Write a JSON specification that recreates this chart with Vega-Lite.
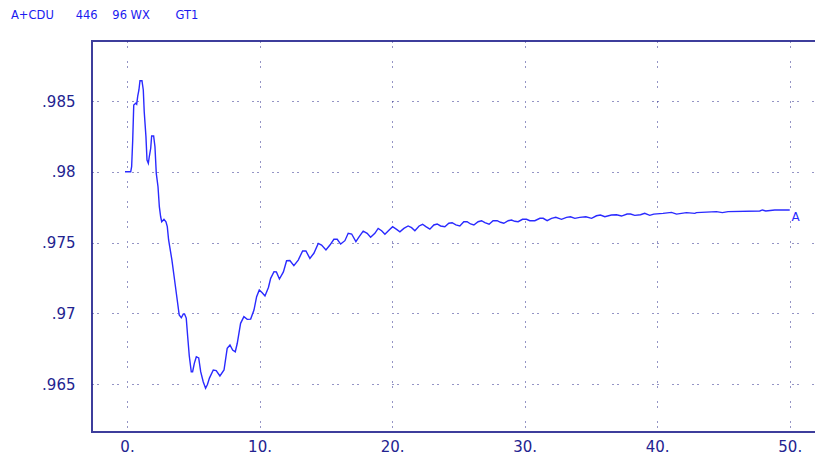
{
  "$schema": "https://vega.github.io/schema/vega-lite/v6.json",
  "width": 764,
  "height": 391,
  "autosize": {"type": "none"},
  "padding": {"left": 92, "top": 41, "right": 0, "bottom": 25},
  "background": "white",
  "title": {
    "text": "A+CDU\u00a0\u00a0\u00a0\u00a0\u00a0\u00a0446\u00a0\u00a0\u00a0\u00a096 WX\u00a0\u00a0\u00a0\u00a0\u00a0\u00a0\u00a0GT1",
    "anchor": "start",
    "frame": "group",
    "orient": "top",
    "dx": -81,
    "offset": 11,
    "baseline": "alphabetic",
    "font": "DejaVu Sans",
    "fontSize": 11.5,
    "fontWeight": "normal",
    "color": "#1b1bf0"
  },
  "config": {
    "view": {"stroke": "#3e3e9c", "strokeWidth": 2},
    "axis": {
      "domain": false,
      "ticks": false,
      "grid": true,
      "gridColor": "#2a2a8a",
      "gridDash": [1, 4, 1, 14],
      "gridWidth": 1,
      "gridOpacity": 1,
      "labelFont": "DejaVu Sans",
      "labelFontSize": 15,
      "labelColor": "#232390",
      "title": null
    }
  },
  "layer": [
    {
      "data": {"values": [
        {"t": -0.15, "v": 0.98},
        {"t": 0.28, "v": 0.98},
        {"t": 0.35, "v": 0.98036},
        {"t": 0.43, "v": 0.98219},
        {"t": 0.51, "v": 0.98472},
        {"t": 0.66, "v": 0.98484},
        {"t": 0.73, "v": 0.98477},
        {"t": 0.81, "v": 0.98535},
        {"t": 0.9, "v": 0.98578},
        {"t": 0.98, "v": 0.98643},
        {"t": 1.13, "v": 0.98643},
        {"t": 1.23, "v": 0.98578},
        {"t": 1.3, "v": 0.98424},
        {"t": 1.43, "v": 0.98248},
        {"t": 1.51, "v": 0.98083},
        {"t": 1.61, "v": 0.9806},
        {"t": 1.68, "v": 0.98106},
        {"t": 1.79, "v": 0.98166},
        {"t": 1.86, "v": 0.98253},
        {"t": 2.01, "v": 0.98253},
        {"t": 2.11, "v": 0.98177},
        {"t": 2.21, "v": 0.97989},
        {"t": 2.34, "v": 0.97894},
        {"t": 2.44, "v": 0.97753},
        {"t": 2.54, "v": 0.97682},
        {"t": 2.62, "v": 0.97647},
        {"t": 2.79, "v": 0.97664},
        {"t": 2.94, "v": 0.97647},
        {"t": 3.04, "v": 0.97612},
        {"t": 3.14, "v": 0.97518},
        {"t": 3.39, "v": 0.97376},
        {"t": 3.62, "v": 0.97214},
        {"t": 3.79, "v": 0.97094},
        {"t": 3.94, "v": 0.96988},
        {"t": 4.1, "v": 0.96968},
        {"t": 4.25, "v": 0.96995},
        {"t": 4.34, "v": 0.96995},
        {"t": 4.47, "v": 0.96966},
        {"t": 4.58, "v": 0.96834},
        {"t": 4.7, "v": 0.96698},
        {"t": 4.85, "v": 0.96587},
        {"t": 4.95, "v": 0.96587},
        {"t": 5.08, "v": 0.96646},
        {"t": 5.23, "v": 0.96693},
        {"t": 5.41, "v": 0.96684},
        {"t": 5.56, "v": 0.96587},
        {"t": 5.75, "v": 0.96516},
        {"t": 5.93, "v": 0.9647},
        {"t": 6.07, "v": 0.96497},
        {"t": 6.22, "v": 0.96542},
        {"t": 6.51, "v": 0.96599},
        {"t": 6.73, "v": 0.96595},
        {"t": 7.01, "v": 0.96557},
        {"t": 7.32, "v": 0.96599},
        {"t": 7.56, "v": 0.96752},
        {"t": 7.77, "v": 0.96776},
        {"t": 7.97, "v": 0.9674},
        {"t": 8.17, "v": 0.96728},
        {"t": 8.32, "v": 0.96788},
        {"t": 8.57, "v": 0.96929},
        {"t": 8.82, "v": 0.96976},
        {"t": 9.07, "v": 0.96957},
        {"t": 9.33, "v": 0.96959},
        {"t": 9.58, "v": 0.97023},
        {"t": 9.78, "v": 0.97117},
        {"t": 9.98, "v": 0.97164},
        {"t": 10.2, "v": 0.97145},
        {"t": 10.41, "v": 0.97122},
        {"t": 10.67, "v": 0.97182},
        {"t": 10.84, "v": 0.97247},
        {"t": 11.09, "v": 0.97294},
        {"t": 11.27, "v": 0.97292},
        {"t": 11.5, "v": 0.97242},
        {"t": 11.8, "v": 0.97292},
        {"t": 12.04, "v": 0.97371},
        {"t": 12.29, "v": 0.97373},
        {"t": 12.59, "v": 0.97337},
        {"t": 12.92, "v": 0.97376},
        {"t": 13.25, "v": 0.9744},
        {"t": 13.5, "v": 0.9744},
        {"t": 13.8, "v": 0.97388},
        {"t": 14.1, "v": 0.97424},
        {"t": 14.43, "v": 0.97494},
        {"t": 14.68, "v": 0.97482},
        {"t": 15.01, "v": 0.97447},
        {"t": 15.31, "v": 0.97482},
        {"t": 15.61, "v": 0.97523},
        {"t": 15.86, "v": 0.97523},
        {"t": 16.12, "v": 0.97489},
        {"t": 16.44, "v": 0.97513},
        {"t": 16.69, "v": 0.97565},
        {"t": 16.95, "v": 0.9756},
        {"t": 17.27, "v": 0.97506},
        {"t": 17.52, "v": 0.97541},
        {"t": 17.82, "v": 0.97581},
        {"t": 18.12, "v": 0.97565},
        {"t": 18.38, "v": 0.97537},
        {"t": 18.7, "v": 0.97565},
        {"t": 18.95, "v": 0.976},
        {"t": 19.21, "v": 0.97583},
        {"t": 19.46, "v": 0.97558},
        {"t": 19.78, "v": 0.97588},
        {"t": 20.04, "v": 0.97612},
        {"t": 20.34, "v": 0.97593},
        {"t": 20.59, "v": 0.97576},
        {"t": 20.89, "v": 0.976},
        {"t": 21.21, "v": 0.97617},
        {"t": 21.47, "v": 0.97605},
        {"t": 21.72, "v": 0.97583},
        {"t": 22.04, "v": 0.97617},
        {"t": 22.3, "v": 0.97629},
        {"t": 22.55, "v": 0.97612},
        {"t": 22.85, "v": 0.97594},
        {"t": 23.15, "v": 0.97624},
        {"t": 23.4, "v": 0.97631},
        {"t": 23.66, "v": 0.97617},
        {"t": 23.98, "v": 0.97612},
        {"t": 24.28, "v": 0.97636},
        {"t": 24.53, "v": 0.9764},
        {"t": 24.81, "v": 0.97624},
        {"t": 25.11, "v": 0.97617},
        {"t": 25.41, "v": 0.97647},
        {"t": 25.66, "v": 0.97647},
        {"t": 25.92, "v": 0.97631},
        {"t": 26.17, "v": 0.97624},
        {"t": 26.49, "v": 0.97647},
        {"t": 26.75, "v": 0.97654},
        {"t": 27.0, "v": 0.9764},
        {"t": 27.32, "v": 0.97629},
        {"t": 27.62, "v": 0.97654},
        {"t": 27.93, "v": 0.97654},
        {"t": 28.18, "v": 0.97643},
        {"t": 28.43, "v": 0.97636},
        {"t": 28.76, "v": 0.97654},
        {"t": 29.01, "v": 0.97659},
        {"t": 29.26, "v": 0.9765},
        {"t": 29.51, "v": 0.97647},
        {"t": 29.84, "v": 0.97664},
        {"t": 30.14, "v": 0.97664},
        {"t": 30.39, "v": 0.97654},
        {"t": 30.77, "v": 0.97654},
        {"t": 31.15, "v": 0.97671},
        {"t": 31.4, "v": 0.97671},
        {"t": 31.7, "v": 0.97654},
        {"t": 32.03, "v": 0.97671},
        {"t": 32.35, "v": 0.97678},
        {"t": 32.78, "v": 0.97664},
        {"t": 33.16, "v": 0.97678},
        {"t": 33.46, "v": 0.97682},
        {"t": 33.79, "v": 0.97671},
        {"t": 34.16, "v": 0.97678},
        {"t": 34.62, "v": 0.97682},
        {"t": 35.05, "v": 0.97671},
        {"t": 35.42, "v": 0.97689},
        {"t": 35.72, "v": 0.97694},
        {"t": 36.05, "v": 0.97682},
        {"t": 36.55, "v": 0.97694},
        {"t": 36.93, "v": 0.97696},
        {"t": 37.31, "v": 0.97687},
        {"t": 37.73, "v": 0.97701},
        {"t": 37.99, "v": 0.97701},
        {"t": 38.31, "v": 0.97692},
        {"t": 38.74, "v": 0.97696},
        {"t": 39.06, "v": 0.97706},
        {"t": 39.44, "v": 0.97692},
        {"t": 39.74, "v": 0.97701},
        {"t": 40.44, "v": 0.97706},
        {"t": 41.08, "v": 0.97713},
        {"t": 41.46, "v": 0.97701},
        {"t": 42.21, "v": 0.97711},
        {"t": 42.84, "v": 0.97706},
        {"t": 42.96, "v": 0.97711},
        {"t": 44.47, "v": 0.97718},
        {"t": 44.92, "v": 0.97711},
        {"t": 45.35, "v": 0.97718},
        {"t": 47.74, "v": 0.97723},
        {"t": 47.94, "v": 0.9773},
        {"t": 48.19, "v": 0.97723},
        {"t": 48.87, "v": 0.9773},
        {"t": 50.0, "v": 0.9773}
      ]},
      "mark": {"type": "line", "color": "#2a2aff", "strokeWidth": 1.4, "interpolate": "linear"},
      "encoding": {
        "x": {
          "field": "t", "type": "quantitative",
          "scale": {"domain": [-2.64, 55], "nice": false, "zero": false},
          "axis": {
            "values": [0, 10, 20, 30, 40, 50],
            "labelExpr": "format(datum.value, 'd') + '.'",
            "labelPadding": 7,
            "labelBaseline": "top",
            "labelAlign": "center",
            "labelFlush": false,
            "labelOverlap": false
          }
        },
        "y": {
          "field": "v", "type": "quantitative",
          "scale": {"domain": [0.96161, 0.98924], "nice": false, "zero": false},
          "axis": {
            "values": [0.965, 0.97, 0.975, 0.98, 0.985],
            "labelExpr": "slice(format(datum.value, '.3~f'), 1)",
            "labelPadding": 17,
            "labelFlush": false,
            "labelOverlap": false
          }
        }
      }
    },
    {
      "data": {"values": [{"t": 50, "v": 0.9773, "label": "A"}]},
      "mark": {"type": "text", "color": "#2a2aff", "font": "DejaVu Sans", "fontSize": 12, "dx": 6, "dy": 7, "align": "center", "baseline": "middle"},
      "encoding": {
        "x": {"field": "t", "type": "quantitative"},
        "y": {"field": "v", "type": "quantitative"},
        "text": {"field": "label"}
      }
    }
  ]
}
